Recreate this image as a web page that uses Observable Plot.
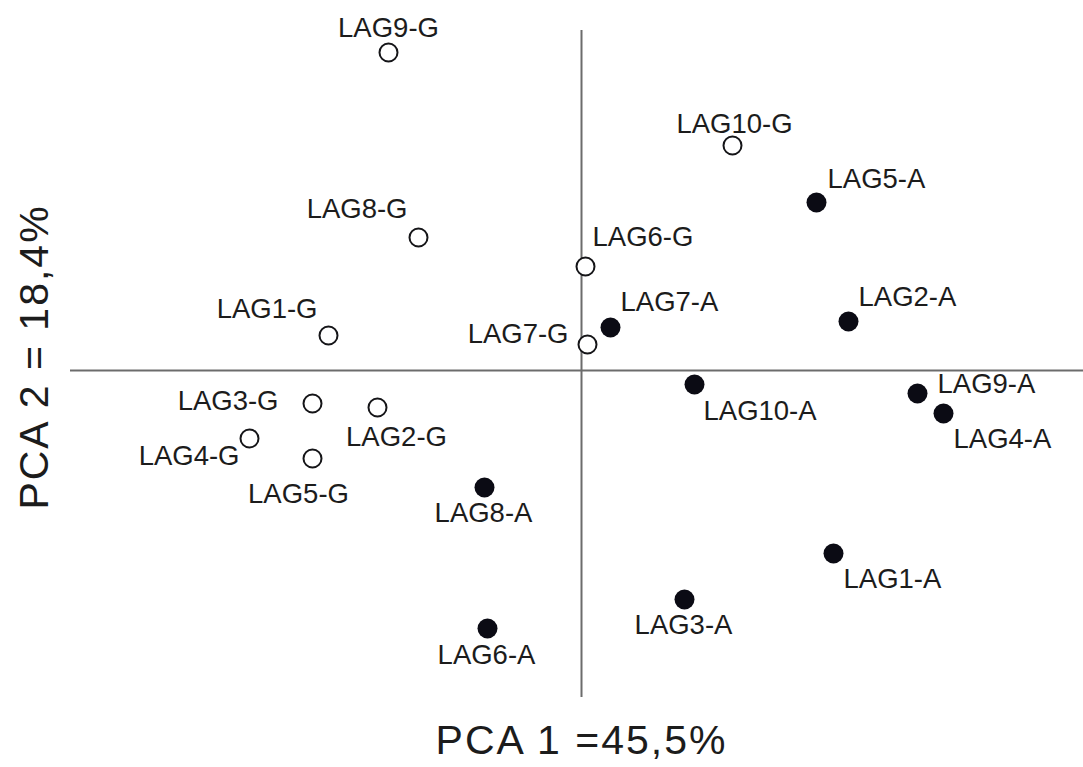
<!DOCTYPE html>
<html>
<head>
<meta charset="utf-8">
<script src="https://cdn.jsdelivr.net/npm/d3@7"></script>
<script src="https://cdn.jsdelivr.net/npm/@observablehq/plot@0.6"></script>
<style>
  html, body { margin: 0; padding: 0; background: #fff; overflow: hidden; }
  svg { display: block; }
</style>
</head>
<body>
<div id="chart"></div>
<script>
// Sample names, PCA scores and group (G = open circles, A = filled dots)
const sampleNames = [
  "LAG1-G", "LAG2-G", "LAG3-G", "LAG4-G", "LAG5-G",
  "LAG6-G", "LAG7-G", "LAG8-G", "LAG9-G", "LAG10-G",
  "LAG1-A", "LAG2-A", "LAG3-A", "LAG4-A", "LAG5-A",
  "LAG6-A", "LAG7-A", "LAG8-A", "LAG9-A", "LAG10-A"
];
const pc1Scores = [
  -2.53, -2.04, -2.69, -3.32, -2.69,
   0.04,  0.06, -1.63, -1.93,  1.51,
   2.52,  2.67,  1.03,  3.62,  2.35,
  -0.94,  0.29, -0.97,  3.36,  1.13
];
const pc2Scores = [
   0.35, -0.37, -0.33, -0.68, -0.88,
   1.04,  0.26,  1.33,  3.18,  2.25,
  -1.83,  0.49, -2.29, -0.43,  1.68,
  -2.58,  0.43, -1.17, -0.23, -0.14
];
const groups = [
  "G", "G", "G", "G", "G", "G", "G", "G", "G", "G",
  "A", "A", "A", "A", "A", "A", "A", "A", "A", "A"
];
const xTitle = "PCA 1 =45,5%";
const yTitle = "PCA 2 = 18,4%";

// Where each label sits relative to its point: [text-anchor, dx, dy]
const labelPlacement = {
  "LAG1-G": ["end", -11, -26],
  "LAG2-G": ["middle", 19, 30],
  "LAG3-G": ["end", -34, -2],
  "LAG4-G": ["end", -10, 18],
  "LAG5-G": ["middle", -14, 36],
  "LAG6-G": ["start", 7, -29],
  "LAG7-G": ["end", -19, -10],
  "LAG8-G": ["end", -11, -28],
  "LAG9-G": ["middle", 0, -24],
  "LAG10-G": ["middle", 2, -21],
  "LAG1-A": ["start", 10, 26],
  "LAG2-A": ["start", 10, -24],
  "LAG3-A": ["middle", -1, 26],
  "LAG4-A": ["start", 10, 26],
  "LAG5-A": ["start", 11, -23],
  "LAG6-A": ["middle", -1, 27],
  "LAG7-A": ["start", 10, -25],
  "LAG8-A": ["middle", -1, 26],
  "LAG9-A": ["start", 20, -9],
  "LAG10-A": ["start", 9, 27]
};

const rows = sampleNames.map((name, i) => ({
  name,
  pc1: pc1Scores[i],
  pc2: pc2Scores[i],
  group: groups[i]
}));

const ink = "#151518";
const axisGrey = "#6c6c6c";

const chart = Plot.plot({
  width: 1083,
  height: 767,
  marginLeft: 70,
  marginRight: 0,
  marginTop: 30,
  marginBottom: 70,
  style: {
    fontFamily: "'Liberation Sans', Arial, Helvetica, sans-serif",
    background: "#fff",
    color: ink
  },
  x: { domain: [-5.11, 5.02], axis: null },
  y: { domain: [-3.27, 3.40], axis: null },
  marks: [
    Plot.ruleY([0], { stroke: axisGrey, strokeWidth: 2 }),
    Plot.ruleX([0], { stroke: axisGrey, strokeWidth: 2 }),
    Plot.dot(rows.filter(d => d.group === "G"), {
      x: "pc1", y: "pc2", r: 9, fill: "#fff", stroke: ink, strokeWidth: 2
    }),
    Plot.dot(rows.filter(d => d.group === "A"), {
      x: "pc1", y: "pc2", r: 10, fill: "#0b0b14", stroke: "none"
    }),
    ...rows.map(d => {
      const [textAnchor, dx, dy] = labelPlacement[d.name];
      return Plot.text([d], {
        x: "pc1", y: "pc2", text: "name",
        textAnchor, dx, dy,
        fontSize: 27.5, fill: "#1c1c1c"
      });
    }),
    Plot.text([xTitle], {
      text: d => d, frameAnchor: "bottom", lineAnchor: "bottom",
      textAnchor: "middle",
      dx: 4.5, dy: 56, fontSize: 41, fill: "#1c1c1c"
    }),
    Plot.text([yTitle], {
      text: d => d, frameAnchor: "left", rotate: -90,
      textAnchor: "middle", lineAnchor: "middle",
      dx: -36, dy: -7, fontSize: 41, fill: "#1c1c1c"
    })
  ]
});

// Slightly wider tracking on the two axis titles
for (const t of chart.querySelectorAll("text")) {
  if (t.textContent === xTitle || t.textContent === yTitle) {
    t.style.letterSpacing = "2px";
  }
}

document.getElementById("chart").append(chart);
</script>
</body>
</html>
